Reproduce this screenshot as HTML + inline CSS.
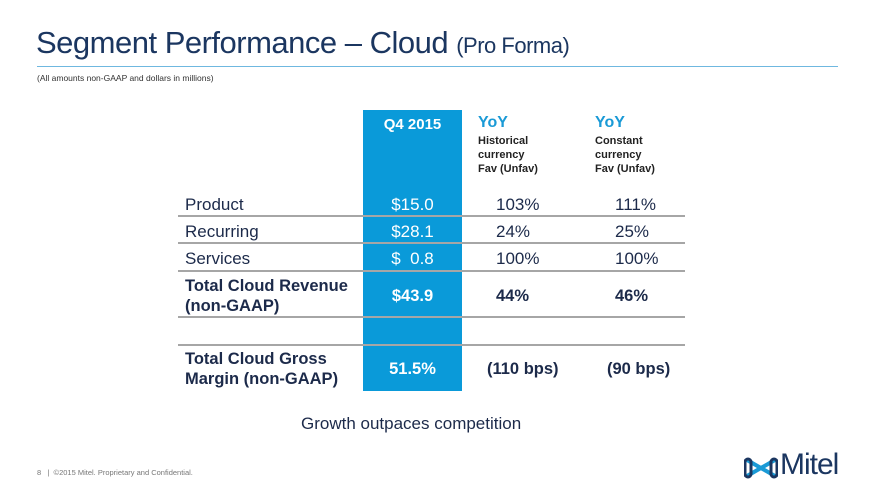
<!DOCTYPE html>
<html><head><meta charset="utf-8"><style>
body{margin:0;width:880px;height:495px;background:#fff;position:relative;overflow:hidden;font-family:"Liberation Sans",sans-serif;color:#1c2a4a}
.a{position:absolute;white-space:nowrap}
.l{position:absolute;left:178px;width:507px;height:2px;background:#a6a6a6}
.r{font-size:17px}
.b{font-weight:bold;font-size:16.5px}
.w{color:#fff}
.c{text-align:center;width:99px;left:363px}
</style></head><body>
<div class="a" style="left:36px;top:25px;font-size:31px;color:#1b3660;letter-spacing:-0.5px">Segment Performance – Cloud <span style="font-size:22px">(Pro Forma)</span></div>
<div class="a" style="left:37px;top:66px;width:801px;height:1px;background:#6fb8e0"></div>
<div class="a" style="left:37px;top:73px;font-size:8.5px;color:#333">(All amounts non-GAAP and dollars in millions)</div>

<div class="a" style="left:363px;top:110px;width:99px;height:281px;background:#0a9ad9"></div>

<div class="a b w c" style="top:116px;font-size:15px">Q4 2015</div>
<div class="a" style="left:478px;top:114px;color:#1a9ad6;font-size:16px;font-weight:bold">YoY</div>
<div class="a" style="left:478px;top:134px;font-size:11px;font-weight:bold;line-height:14px;color:#222">Historical<br>currency<br>Fav (Unfav)</div>
<div class="a" style="left:595px;top:114px;color:#1a9ad6;font-size:16px;font-weight:bold">YoY</div>
<div class="a" style="left:595px;top:134px;font-size:11px;font-weight:bold;line-height:14px;color:#222">Constant<br>currency<br>Fav (Unfav)</div>

<div class="a r" style="left:185px;top:195px">Product</div>
<div class="a r w c" style="top:195px">$15.0</div>
<div class="a r" style="left:496px;top:195px">103%</div>
<div class="a r" style="left:615px;top:195px">111%</div>
<div class="l" style="top:215px"></div>

<div class="a r" style="left:185px;top:222px">Recurring</div>
<div class="a r w c" style="top:222px">$28.1</div>
<div class="a r" style="left:496px;top:222px">24%</div>
<div class="a r" style="left:615px;top:222px">25%</div>
<div class="l" style="top:242px"></div>

<div class="a r" style="left:185px;top:249px">Services</div>
<div class="a r w c" style="top:249px">$&nbsp;&nbsp;0.8</div>
<div class="a r" style="left:496px;top:249px">100%</div>
<div class="a r" style="left:615px;top:249px">100%</div>
<div class="l" style="top:270px"></div>

<div class="a b" style="left:185px;top:276px;line-height:20px">Total Cloud Revenue<br>(non-GAAP)</div>
<div class="a b w c" style="top:287px">$43.9</div>
<div class="a b" style="left:496px;top:287px">44%</div>
<div class="a b" style="left:615px;top:287px">46%</div>
<div class="l" style="top:316px"></div>
<div class="l" style="top:344px"></div>

<div class="a b" style="left:185px;top:349px;line-height:20px">Total Cloud Gross<br>Margin (non-GAAP)</div>
<div class="a b w c" style="top:360px">51.5%</div>
<div class="a b" style="left:487px;top:360px">(110 bps)</div>
<div class="a b" style="left:607px;top:360px">(90 bps)</div>

<div class="a" style="left:301px;top:414px;font-size:17px;color:#1c2a4a">Growth outpaces competition</div>

<div class="a" style="left:37px;top:468px;font-size:7.5px;color:#777">8 &nbsp;&nbsp;| &nbsp;©2015 Mitel. Proprietary and Confidential.</div>
<div class="a" style="left:744px;top:448px;height:30px">
<svg width="34" height="24" style="position:absolute;left:0;top:8px" viewBox="0 0 34 24"><path d="M3 4 L31 20 M3 20 L31 4" stroke="#1a9ad6" stroke-width="4"/><rect x="1" y="3" width="6" height="18" rx="3" fill="none" stroke="#1b3660" stroke-width="3"/><rect x="27" y="3" width="6" height="18" rx="3" fill="none" stroke="#1b3660" stroke-width="3"/></svg>
<span class="a" style="left:36px;top:0;font-size:30px;color:#1b3660;letter-spacing:-1px">Mitel</span></div>
</body></html>
